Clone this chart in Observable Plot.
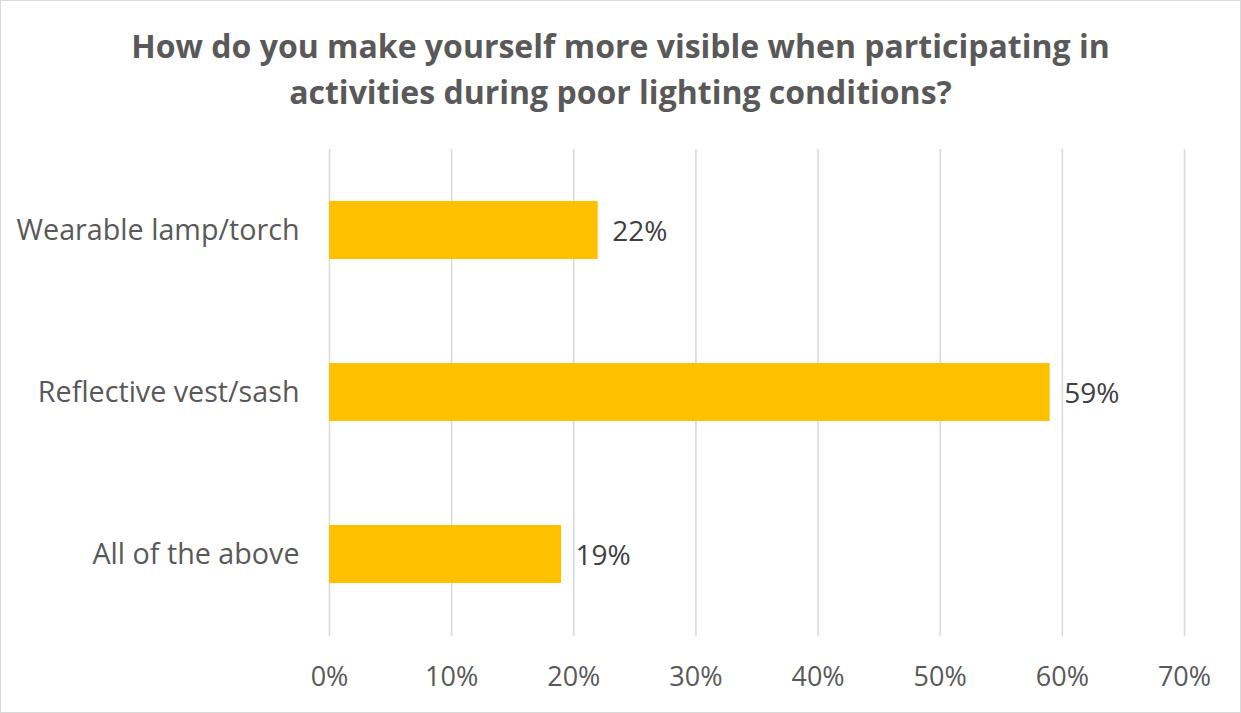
<!DOCTYPE html>
<html>
<head>
<meta charset="utf-8">
<script src="https://cdn.jsdelivr.net/npm/d3@7"></script>
<script src="https://cdn.jsdelivr.net/npm/@observablehq/plot@0.6"></script>
<style>
  html, body { margin: 0; padding: 0; background: #fff; }
  #frame { position: relative; width: 1239px; height: 711px; border: 1px solid #d9d9d9; overflow: hidden; }
  #title { position: absolute; left: 0; top: 22px; width: 100%; text-align: center;
    font-family: "Open Sans", sans-serif; font-weight: bold; font-size: 32px; line-height: 46px; color: #595959; }
  #chart { position: absolute; left: 0; top: 140px; }
</style>
</head>
<body>
<div id="frame">
  <div id="title">How do you make yourself more visible when participating in<br>activities during poor lighting conditions?</div>
  <div id="chart"></div>
</div>
<script>
const categories = ["Wearable lamp/torch", "Reflective vest/sash", "All of the above"];
const values = [0.22, 0.59, 0.19];
const labels = ["22%", "59%", "19%"];
const xTicks = [0, 0.1, 0.2, 0.3, 0.4, 0.5, 0.6, 0.7];

const data = categories.map((c, i) => ({category: c, value: values[i], label: labels[i]}));

const plot = Plot.plot({
  width: 1239,
  height: 571,
  marginLeft: 328,
  marginRight: 56,
  marginTop: 8,
  marginBottom: 76,
  style: {fontFamily: "Open Sans, sans-serif", fontSize: "27px", color: "#595959", background: "transparent"},
  x: {domain: [0, 0.7], label: null},
  y: {domain: categories, label: null, paddingInner: 0.64, paddingOuter: 0.32},
  marks: [
    Plot.gridX(xTicks, {stroke: "#d9d9d9", strokeOpacity: 1, strokeWidth: 1.5}),
    Plot.axisX(xTicks, {tickFormat: d => Math.round(d * 100) + "%", tickSize: 0, tickPadding: 30, fontSize: 27, label: null}),
    Plot.axisY({tickSize: 0, tickPadding: 30, fontSize: 28.7, label: null}),
    Plot.barX(data, {x: "value", y: "category", fill: "#FFC000"}),
    Plot.text(data, {x: "value", y: "category", text: "label", textAnchor: "start", dx: 14, dy: 2, fill: "#404040", fontSize: 28})
  ]
});
document.getElementById("chart").appendChild(plot);
</script>
</body>
</html>
